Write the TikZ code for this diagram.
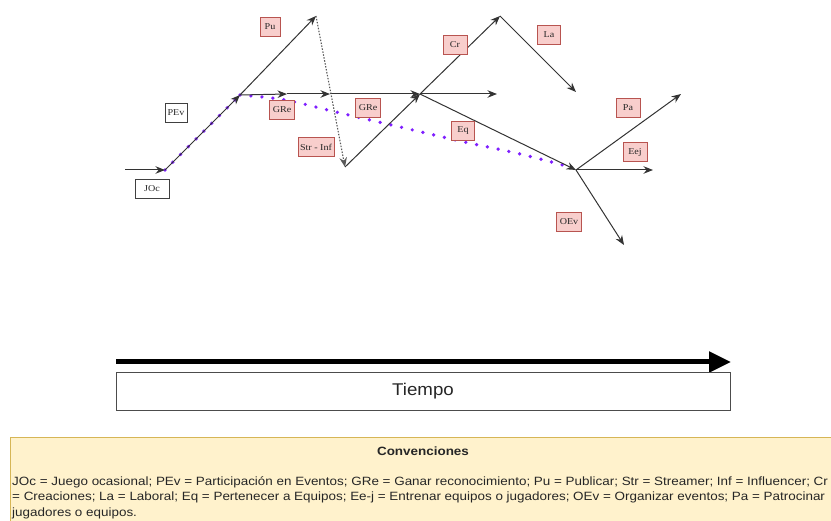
\documentclass[tikz,border=0pt]{standalone}
\usepackage{fontspec}
\setmainfont{Liberation Serif}
\setsansfont{Liberation Sans}
\usetikzlibrary{arrows.meta}
\definecolor{tagfill}{HTML}{F8CECC}
\definecolor{tagline}{HTML}{B85450}
\definecolor{notefill}{HTML}{FFF2CC}
\definecolor{noteline}{HTML}{D6B656}
\definecolor{pathviolet}{HTML}{7F1FFF}
\tikzset{
  flow/.style={draw=black!80, line width=1pt, -{Stealth[length=9.5pt,width=7.5pt]}},
  jump/.style={flow, draw=black!65, line width=1.1pt, dash pattern=on 1.5pt off 1.5pt},
  tag/.style={draw=tagline, fill=tagfill, line width=0.6pt,
    inner sep=0pt, minimum height=19pt, text=black!85},
  tagtext/.style={font=\fontsize{9}{10}\selectfont, xscale=1.12, transform shape, text=black!85},
  plain/.style={tag, draw=black!75, fill=white},
  route/.style={draw=pathviolet, line width=3.7pt, line cap=round, dash pattern=on 0pt off 11pt},
  legendtext/.style={anchor=west, inner sep=0pt, font=\sffamily\fontsize{12}{13}\selectfont,
    xscale=1.12, transform shape, text=black!85}
}
\begin{document}
\begin{tikzpicture}[x=1pt,y=-1pt]
\useasboundingbox (0,0) rectangle (831,521);

% junction points of the career paths
\coordinate (start) at (125,170);
\coordinate (p1) at (165,170);
\coordinate (p2) at (240,95);
\coordinate (pu) at (316,16);
\coordinate (h1) at (287,94);
\coordinate (h2) at (330,94);
\coordinate (str) at (345,167);
\coordinate (p3) at (420,94);
\coordinate (hend) at (497,94);
\coordinate (cr) at (500,16);
\coordinate (la) at (576,92);
\coordinate (p4) at (576,170);
\coordinate (pa) at (681,94);
\coordinate (eej) at (653,170);
\coordinate (oev) at (624,245);

% highlighted route
\draw[route] (p1) -- (p2) plot[smooth, tension=0.6] coordinates
  {(240,95) (285,100) (340,113) (400,127) (460,141) (520,154) (570,167)};

% connectors
\draw[flow] (start) -- (p1);
\draw[flow] (p1) -- (p2);
\draw[flow] (p2) -- (pu);
\draw[flow] (p2) -- (h1);
\draw[flow] (h1) -- (h2);
\draw[flow] (h2) -- (p3);
\draw[jump] (pu) -- (str);
\draw[flow] (str) -- (p3);
\draw[flow] (p3) -- (hend);
\draw[flow] (p3) -- (cr);
\draw[flow] (cr) -- (la);
\draw[flow] (p3) -- (p4);
\draw[flow] (p4) -- (pa);
\draw[flow] (p4) -- (eej);
\draw[flow] (p4) -- (oev);

% label boxes
\node[plain, minimum width=34pt] (tJOc) at (152,189) {};
\node[plain, minimum width=22pt] (tPEv) at (176,113) {};
\node[tag, minimum width=20pt] (tPu) at (270,27) {};
\node[tag, minimum width=25pt] (tGRe1) at (282,110) {};
\node[tag, minimum width=25pt] (tGRe2) at (368,108) {};
\node[tag, minimum width=36pt] (tStr) at (316,147) {};
\node[tag, minimum width=24pt] (tCr) at (455,45) {};
\node[tag, minimum width=23pt] (tLa) at (549,35) {};
\node[tag, minimum width=23pt] (tEq) at (463,131) {};
\node[tag, minimum width=24pt] (tPa) at (628,108) {};
\node[tag, minimum width=24pt] (tEej) at (635,152) {};
\node[tag, minimum width=25pt] (tOEv) at (569,222) {};
% label texts
\node[tagtext] at (tJOc) {JOc};
\node[tagtext] at (tPEv) {PEv};
\node[tagtext] at (tPu) {Pu};
\node[tagtext] at (tGRe1) {GRe};
\node[tagtext] at (tGRe2) {GRe};
\node[tagtext] at (tStr) {Str - Inf};
\node[tagtext] at (tCr) {Cr};
\node[tagtext] at (tLa) {La};
\node[tagtext] at (tEq) {Eq};
\node[tagtext] at (tPa) {Pa};
\node[tagtext] at (tEej) {Eej};
\node[tagtext] at (tOEv) {OEv};

% time axis
\coordinate (t0) at (116,362);
\coordinate (t1) at (731,362);
\draw[line width=5pt, -{Triangle[length=22pt,width=20pt]}] (t0) -- (t1);
\node[draw=black!70, line width=0.6pt, minimum width=614pt, minimum height=38pt, inner sep=0pt] (tiempo) at (423,391) {};
\node[font=\sffamily\fontsize{17}{18}\selectfont, xscale=1.1, transform shape, text=black!85] at (tiempo) {Tiempo};

% legend
\node[draw=noteline, fill=notefill, line width=0.6pt, anchor=north west, minimum width=828pt,
  minimum height=90pt, inner sep=0pt] (legend) at (10,437) {};
\node[font=\sffamily\bfseries\fontsize{12}{13}\selectfont, xscale=1.12, transform shape, text=black!85] (legtitle) at (423,451) {Convenciones};
\node[legendtext] (leg1) at (12,482)
  {JOc = Juego ocasional; PEv = Participación en Eventos; GRe = Ganar reconocimiento; Pu = Publicar; Str = Streamer; Inf = Influencer; Cr};
\node[legendtext] (leg2) at (12,497.5)
  {= Creaciones; La = Laboral; Eq = Pertenecer a Equipos; Ee-j = Entrenar equipos o jugadores; OEv = Organizar eventos; Pa = Patrocinar};
\node[legendtext] (leg3) at (12,513)
  {jugadores o equipos.};
\end{tikzpicture}
\end{document}
